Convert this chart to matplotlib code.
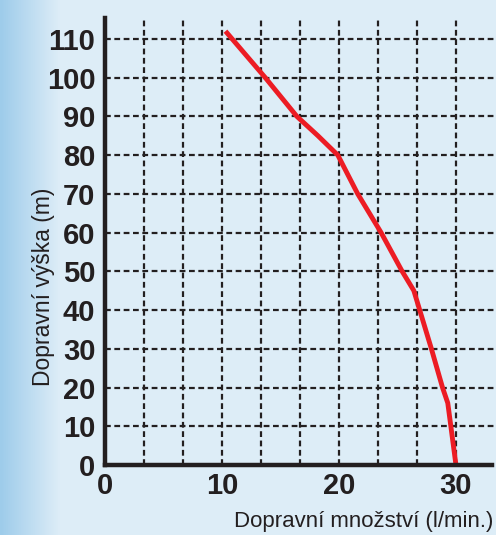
import numpy as np
import matplotlib.pyplot as plt

# pump curve
flow = [10.3, 13.7, 16.4, 18.2, 19.9, 21.6, 23.6, 25.4, 26.4, 27.9, 28.85, 29.3, 30.0]
head = [112, 100, 90, 85, 80, 70, 60, 50, 45, 30, 20, 16, 0]
x_ticks = [0, 10, 20, 30]
y_ticks = [0, 10, 20, 30, 40, 50, 60, 70, 80, 90, 100, 110]

fig = plt.figure(figsize=(4.96, 5.35), dpi=100)

# light blue background, darker toward the left edge
bg = fig.add_axes([0, 0, 1, 1])
grad = np.linspace(0, 1, 256)
grad = np.clip(grad / 0.12, 0, 1)
c0 = np.array([0.62, 0.80, 0.92])
c1 = np.array([0.87, 0.93, 0.97])
img = c0[None, :] + (c1 - c0)[None, :] * grad[:, None]
bg.imshow(img[None, :, :], aspect='auto', extent=[0, 1, 0, 1])
bg.axis('off')

ax = fig.add_axes([105 / 496, 1 - 465 / 535, (492 - 105) / 496, (465 - 18) / 535])
ax.patch.set_alpha(0)

ax.set_xlim(0, 33.08)
ax.set_ylim(0, 115.4)

# dashed grid: every 10 on y, every 10/3 on x
for gx in np.arange(1, 10) * 10 / 3:
    ax.axvline(gx, color='#231f20', lw=1.6, dashes=(2.6, 1.6), zorder=1)
for gy in y_ticks[1:]:
    ax.axhline(gy, xmax=1.02, color='#231f20', lw=1.6, dashes=(2.6, 1.6), zorder=1, clip_on=False)

ax.plot(flow, head, color='#ec1c24', lw=3.5, zorder=3, solid_capstyle='butt')

for s in ['top', 'right']:
    ax.spines[s].set_visible(False)
for s in ['left', 'bottom']:
    ax.spines[s].set_linewidth(3.2)
    ax.spines[s].set_color('#231f20')
    ax.spines[s].set_zorder(4)

fam = ['Liberation Sans', 'DejaVu Sans']
tick_font = dict(family=fam, size=21, weight='bold')
ax.set_xticks(x_ticks)
ax.set_yticks(y_ticks)
ax.set_xticklabels([str(v) for v in x_ticks], fontdict=tick_font, color='#231f20')
ax.set_yticklabels([str(v) for v in y_ticks], fontdict=tick_font, color='#231f20')
ax.tick_params(length=0, pad=7)
ax.tick_params(axis='x', pad=5)

fig.text(44 / 496, 1 - 287 / 535, 'Dopravní výška (m)', rotation=90, ha='center', va='center',
         family=fam, size=16.5, color='#231f20')
fig.text(493 / 496, 1 - 521 / 535, 'Dopravní množství (l/min.)', ha='right', va='center',
         family=fam, size=16, color='#231f20')

fig.savefig('out.png', dpi=100)
